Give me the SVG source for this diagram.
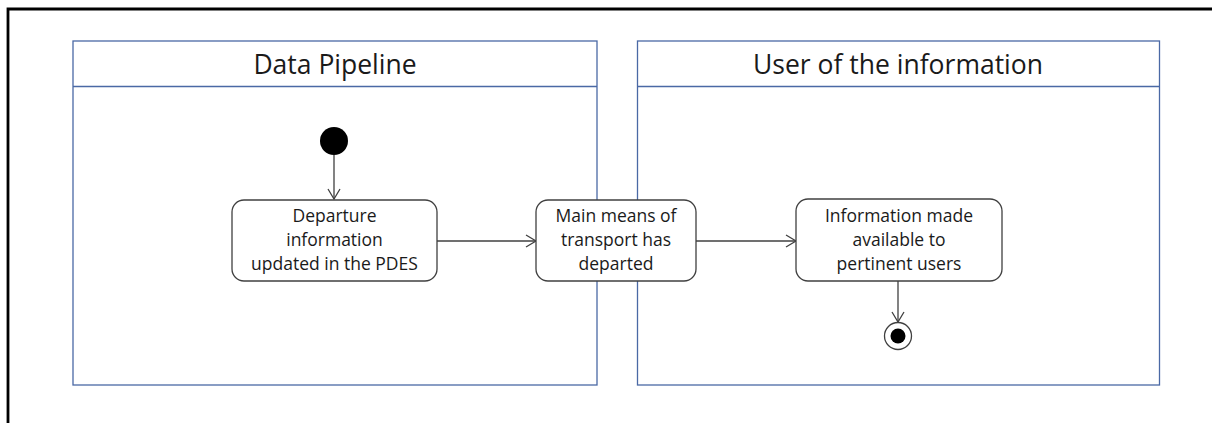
<svg xmlns="http://www.w3.org/2000/svg" width="1212" height="423" viewBox="0 0 1212 423">
<style>
.lane{fill:none;stroke:#4a69a5;stroke-width:1.3}
.node{fill:#fff;stroke:#404040;stroke-width:1.3}
.hdr{font-family:"Open Sans",sans-serif;font-size:26.5px;fill:#1a1a1a;text-anchor:middle}
.lbl{font-family:"Open Sans",sans-serif;font-size:17.5px;fill:#1a1a1a;text-anchor:middle}
.edge{fill:none;stroke:#404040;stroke-width:1.3;marker-end:url(#arr)}
</style>
<defs>
<marker id="arr" markerWidth="14" markerHeight="14" viewBox="0 0 14 14" refX="12" refY="7" orient="auto" markerUnits="userSpaceOnUse">
<path d="M2,1 L12,7 L2,13" fill="none" stroke="#404040" stroke-width="1.3"/>
</marker>
</defs>
<rect width="1212" height="423" fill="#fff"/>
<path d="M8,423 V9 H1212" fill="none" stroke="#000" stroke-width="2.8"/>
<g id="lane-data-pipeline">
<rect class="lane" x="73" y="41" width="524" height="344"/>
<line class="lane" x1="73" y1="86.5" x2="597" y2="86.5"/>
<text class="hdr" x="335" y="74">Data Pipeline</text>
</g>
<g id="lane-user">
<rect class="lane" x="637.5" y="41" width="522" height="344"/>
<line class="lane" x1="637.5" y1="86.5" x2="1159.5" y2="86.5"/>
<text class="hdr" x="898" y="74">User of the information</text>
</g>
<g id="connectors">
<line class="edge" x1="334" y1="155" x2="334" y2="199"/>
<line class="edge" x1="437" y1="241" x2="536" y2="241"/>
<line class="edge" x1="696" y1="241" x2="796" y2="241"/>
<line class="edge" x1="898" y1="281" x2="898" y2="322"/>
</g>
<g id="start">
<circle cx="334" cy="141" r="14" fill="#000"/>
</g>
<g id="n1">
<rect class="node" x="232" y="200" width="205" height="81" rx="12"/>
<text class="lbl" x="334.5" y="222">Departure</text>
<text class="lbl" x="334.5" y="246">information</text>
<text class="lbl" x="334.5" y="270">updated in the PDES</text>
</g>
<g id="n2">
<rect class="node" x="536" y="200" width="160" height="81" rx="12"/>
<text class="lbl" x="616" y="222">Main means of</text>
<text class="lbl" x="616" y="246">transport has</text>
<text class="lbl" x="616" y="270">departed</text>
</g>
<g id="n3">
<rect class="node" x="796" y="199" width="206" height="82" rx="12"/>
<text class="lbl" x="899" y="222">Information made</text>
<text class="lbl" x="899" y="246">available to</text>
<text class="lbl" x="899" y="270">pertinent users</text>
</g>
<g id="end">
<circle cx="898" cy="336" r="13.5" fill="#fff" stroke="#404040" stroke-width="1.3"/>
<circle cx="898" cy="336" r="7.5" fill="#000"/>
</g>
</svg>
